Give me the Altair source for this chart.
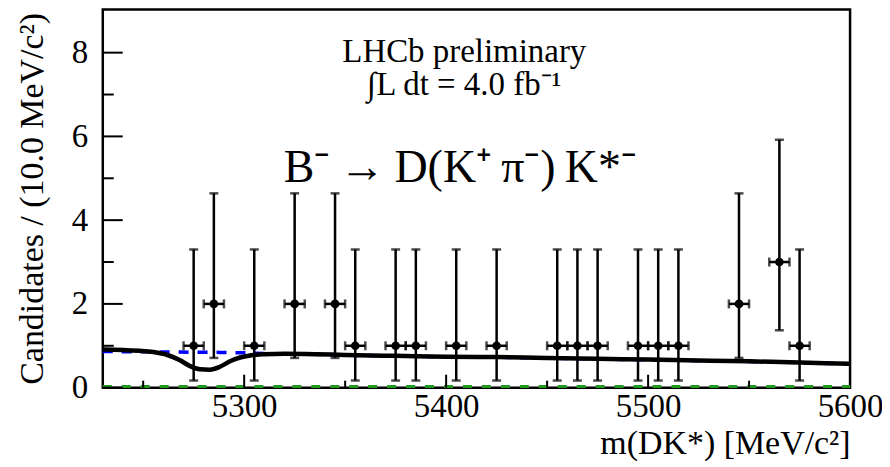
import altair as alt
import pandas as pd

# ---- data ----
mass = [5275, 5285, 5305, 5325, 5345, 5355, 5375, 5385, 5405, 5425,
        5455, 5465, 5475, 5495, 5505, 5515, 5545, 5565, 5575]
counts = [1, 2, 1, 2, 2, 1, 1, 1, 1, 1,
          1, 1, 1, 1, 1, 1, 2, 3, 1]
# Poisson error-bar ends, keyed by count
err_low_by_n = {1: 0.17, 2: 0.71, 3: 1.37}
err_high_by_n = {1: 3.30, 2: 4.64, 3: 5.92}
half_bin = 5

fit_mass = [5230, 5240, 5248, 5255, 5262, 5268, 5273, 5278, 5283, 5288,
            5293, 5298, 5303, 5310, 5320, 5335, 5350, 5375, 5400, 5425,
            5450, 5475, 5500, 5525, 5550, 5575, 5600]
fit_total = [0.91, 0.90, 0.88, 0.85, 0.78, 0.66, 0.52, 0.44, 0.43, 0.50,
             0.63, 0.72, 0.77, 0.80, 0.81, 0.80, 0.78, 0.76, 0.74, 0.73,
             0.71, 0.69, 0.67, 0.65, 0.63, 0.60, 0.57]
fit_bkg = [0.865, 0.86, 0.858, 0.855, 0.852, 0.85, 0.848, 0.846, 0.844, 0.842,
           0.838, 0.834, 0.828, 0.815, 0.805, 0.795, 0.775, 0.755, 0.735, 0.725,
           0.705, 0.685, 0.665, 0.645, 0.625, 0.595, 0.565]
other_mass = [5230, 5600]
other_val = [0.03, 0.03]

y_major = [0, 2, 4, 6, 8]
y_minor = [1, 3, 5, 7]
x_major = [5300, 5400, 5500]
x_minor = [5250, 5350, 5450, 5550]
x_labels = [5300, 5400, 5500, 5600]

FONT = "Times New Roman, Liberation Serif, Times, serif"

x_scale = alt.Scale(domain=[5230, 5600], nice=False, zero=False)
y_scale = alt.Scale(domain=[0, 9.03], nice=False, zero=True)

pts = pd.DataFrame({"m": mass, "n": counts})
pts["lo"] = [err_low_by_n[n] for n in counts]
pts["hi"] = [err_high_by_n[n] for n in counts]
pts["mlo"] = pts["m"] - half_bin
pts["mhi"] = pts["m"] + half_bin

x_axis = alt.Axis(title="m(DK*) [MeV/c²]", values=x_labels, format="d",
                  ticks=False, domain=False, grid=False,
                  labelFont=FONT, labelFontSize=33, labelColor="black",
                  labelPadding=3, labelFlush=False, labelOverlap=False,
                  titleFont=FONT, titleFontSize=34, titleFontWeight="normal",
                  titleColor="black", titleAnchor="end", titleAlign="right",
                  titleX=749, titleY=66, titleBaseline="alphabetic")
y_axis = alt.Axis(title="Candidates / (10.0 MeV/c²)", values=y_major, format="d",
                  ticks=False, domain=False, grid=False,
                  labelFont=FONT, labelFontSize=33, labelColor="black",
                  labelPadding=15, labelOverlap=False,
                  titleFont=FONT, titleFontSize=34, titleFontWeight="normal",
                  titleColor="black", titleAnchor="end", titleAlign="right",
                  titleAngle=270, titleX=-60, titleY=3, titleBaseline="alphabetic")


def X(field):
    return alt.X(field, scale=x_scale, axis=x_axis)


def Y(field):
    return alt.Y(field, scale=y_scale, axis=y_axis)


base = alt.Chart(pts)
bar_style = dict(color="black", strokeWidth=2.5)

vbar = base.mark_rule(**bar_style).encode(x=X("m:Q"), y=Y("lo:Q"), y2="hi:Q")
hbar = base.mark_rule(**bar_style).encode(x=X("mlo:Q"), x2="mhi:Q", y=Y("n:Q"))
cap_lo = base.mark_tick(orient="horizontal", color="black", size=9, thickness=2.5).encode(
    x=X("m:Q"), y=Y("lo:Q"))
cap_hi = base.mark_tick(orient="horizontal", color="black", size=9, thickness=2.5).encode(
    x=X("m:Q"), y=Y("hi:Q"))
cap_l = base.mark_tick(orient="vertical", color="black", size=9, thickness=2.5).encode(
    x=X("mlo:Q"), y=Y("n:Q"))
cap_r = base.mark_tick(orient="vertical", color="black", size=9, thickness=2.5).encode(
    x=X("mhi:Q"), y=Y("n:Q"))
dots = base.mark_point(shape="circle", filled=True, color="black", size=75, opacity=1).encode(
    x=X("m:Q"), y=Y("n:Q"))

curves = pd.DataFrame({"m": fit_mass, "tot": fit_total, "bkg": fit_bkg})
other = pd.DataFrame({"m": other_mass, "v": other_val})

green = alt.Chart(other).mark_line(color="#1f9a1f", strokeWidth=3, strokeDash=[9, 10]).encode(
    x=X("m:Q"), y=Y("v:Q"))
blue = alt.Chart(curves).mark_line(color="#0000ff", strokeWidth=3.5, strokeDash=[10, 9]).encode(
    x=X("m:Q"), y=Y("bkg:Q"))
total = alt.Chart(curves).mark_line(color="black", strokeWidth=4.5, interpolate="monotone").encode(
    x=X("m:Q"), y=Y("tot:Q"))

# inward ticks
ytm = alt.Chart(pd.DataFrame({"v": y_major})).mark_rule(color="black", strokeWidth=2).encode(
    y=Y("v:Q"), x=alt.value(0), x2=alt.value(20))
ytn = alt.Chart(pd.DataFrame({"v": y_minor})).mark_rule(color="black", strokeWidth=2).encode(
    y=Y("v:Q"), x=alt.value(0), x2=alt.value(11))
xtm = alt.Chart(pd.DataFrame({"v": x_major})).mark_rule(color="black", strokeWidth=2).encode(
    x=X("v:Q"), y=alt.value(379), y2=alt.value(366))
xtn = alt.Chart(pd.DataFrame({"v": x_minor})).mark_rule(color="black", strokeWidth=2).encode(
    x=X("v:Q"), y=alt.value(379), y2=alt.value(372))

# annotations
ann = pd.DataFrame({
    "x": [5409, 5409, 5407],
    "y": [7.78, 6.98, 4.9],
    "t": ["LHCb preliminary", "∫L dt = 4.0 fb⁻¹", "B⁻\u2009→\u2009D(K⁺\u2009π⁻)\u2009K*⁻"],
})
ann_small = alt.Chart(ann.iloc[:2]).mark_text(font=FONT, fontSize=33, color="black",
                                              align="center", baseline="alphabetic").encode(
    x=X("x:Q"), y=Y("y:Q"), text="t:N")
ann_big = alt.Chart(ann.iloc[2:]).mark_text(font=FONT, fontSize=46, color="black",
                                            align="center", baseline="alphabetic").encode(
    x=X("x:Q"), y=Y("y:Q"), text="t:N")

chart = alt.layer(
    vbar, green, blue, total, hbar, cap_lo, cap_hi, cap_l, cap_r, dots,
    ytm, ytn, xtm, xtn, ann_small, ann_big
).properties(
    width=749, height=379,
    autosize=alt.AutoSizeParams(type="none"),
    padding={"left": 95, "top": 1, "right": 32, "bottom": 78},
).configure_view(stroke="black", strokeWidth=2.5)

chart.save("out.html", embed_options={"renderer": "svg", "actions": False})
